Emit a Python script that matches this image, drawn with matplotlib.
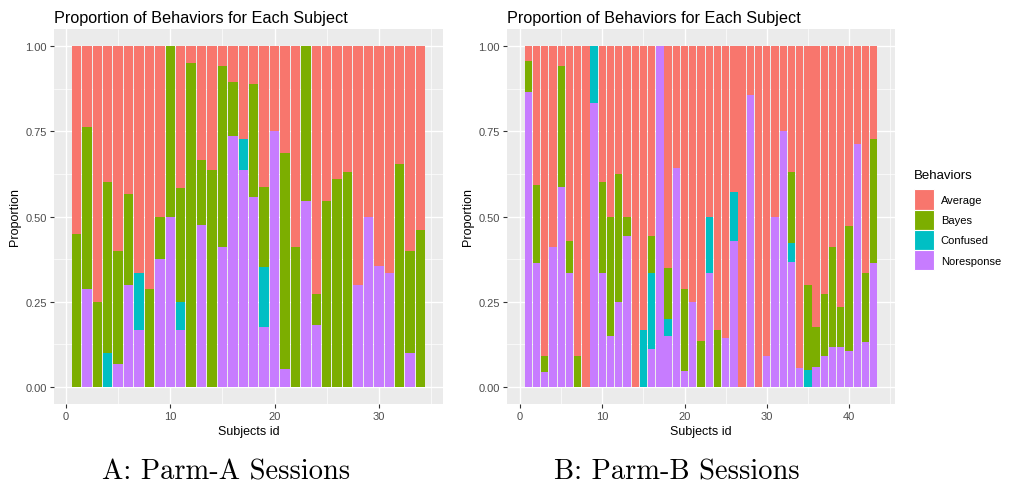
import matplotlib
matplotlib.use("Agg")
import matplotlib.pyplot as plt
from matplotlib.patches import Patch
from matplotlib.ticker import MultipleLocator
import numpy as np

plt.rcParams["font.family"] = ["Liberation Sans", "DejaVu Sans"]

BEHAVIORS = ["Average", "Bayes", "Confused", "Noresponse"]
COLORS = {"Average": "#F8766D", "Bayes": "#7CAE00", "Confused": "#00BFC4", "Noresponse": "#C77CFF"}

# Parm-A sessions (34 subjects)
a_noresponse = [0, 0.286, 0, 0, 0.067, 0.3, 0.167, 0, 0.375, 0.5, 0.167, 0, 0.476, 0, 0.412, 0.737, 0.636,
                0.556, 0.176, 0.75, 0.053, 0, 0.545, 0.182, 0, 0, 0, 0.3, 0.5, 0.355, 0.333, 0, 0.1, 0]
a_confused = [0, 0, 0, 0.1, 0, 0, 0.167, 0, 0, 0, 0.083, 0, 0, 0, 0, 0, 0.091,
              0, 0.176, 0, 0, 0, 0, 0, 0, 0, 0, 0, 0, 0, 0, 0, 0, 0]
a_bayes = [0.45, 0.476, 0.25, 0.5, 0.333, 0.267, 0, 0.286, 0.125, 0.5, 0.333, 0.95, 0.19, 0.636, 0.529, 0.158, 0,
           0.333, 0.235, 0, 0.632, 0.412, 0.455, 0.091, 0.545, 0.611, 0.632, 0, 0, 0, 0, 0.655, 0.3, 0.46]
a_average = [0.55, 0.238, 0.75, 0.4, 0.6, 0.433, 0.667, 0.714, 0.5, 0, 0.417, 0.05, 0.333, 0.364, 0.059, 0.105, 0.273,
             0.111, 0.412, 0.25, 0.316, 0.588, 0, 0.727, 0.455, 0.389, 0.368, 0.7, 0.5, 0.645, 0.667, 0.345, 0.6, 0.54]

# Parm-B sessions (43 subjects)
b_noresponse = [0.864, 0.364, 0.045, 0.412, 0.588, 0.333, 0, 0, 0.833, 0.333, 0.15, 0.25, 0.444, 0, 0, 0.111,
                1, 0.15, 0.643, 0.048, 0.25, 0, 0.333, 0, 0.143, 0.429, 0, 0.857, 0, 0.091, 0.5, 0.75,
                0.368, 0.056, 0, 0.059, 0.091, 0.118, 0.118, 0.105, 0.714, 0.133, 0.364]
b_confused = [0, 0, 0, 0, 0, 0, 0, 0, 0.167, 0, 0, 0, 0, 0, 0.167, 0.222,
              0, 0.05, 0, 0, 0, 0, 0.167, 0, 0, 0.143, 0, 0, 0, 0, 0, 0,
              0.053, 0, 0.05, 0, 0, 0, 0, 0, 0, 0, 0]
b_bayes = [0.091, 0.227, 0.045, 0, 0.353, 0.095, 0.091, 0, 0, 0.267, 0.35, 0.375, 0.056, 0, 0, 0.111,
           0, 0.15, 0, 0.238, 0, 0.136, 0, 0.167, 0, 0, 0, 0, 0, 0, 0, 0,
           0.211, 0, 0.25, 0.118, 0.182, 0.294, 0.118, 0.368, 0, 0.2, 0.364]
b_average = [0.045, 0.409, 0.909, 0.588, 0.059, 0.571, 0.909, 1, 0, 0.4, 0.5, 0.375, 0.5, 1, 0.833, 0.556,
             0, 0.65, 0.357, 0.714, 0.75, 0.864, 0.5, 0.833, 0.857, 0.429, 1, 0.143, 1, 0.909, 0.5, 0.25,
             0.368, 0.944, 0.7, 0.824, 0.727, 0.588, 0.765, 0.526, 0.286, 0.667, 0.273]

W, H = 1013, 489


def px_axes(fig, x0, y0, x1, y1):
    return fig.add_axes([x0 / W, 1 - y1 / H, (x1 - x0) / W, (y1 - y0) / H])


def draw_panel(ax, noresponse, confused, bayes, average, xmax_ticks):
    n = len(average)
    ids = np.arange(1, n + 1)
    # stacking order bottom -> top as in ggplot
    stack = [("Noresponse", noresponse), ("Confused", confused), ("Bayes", bayes), ("Average", average)]
    bottom = np.zeros(n)
    for name, vals in stack:
        vals = np.asarray(vals, dtype=float)
        ax.bar(ids, vals, width=0.9, bottom=bottom, color=COLORS[name], linewidth=0, zorder=3)
        bottom += vals
    ax.set_facecolor("#EBEBEB")
    pad = 0.05 * (n - 0.1)
    ax.set_xlim(0.55 - pad, n + 0.45 + pad)
    ax.set_ylim(-0.05, 1.05)
    ax.xaxis.set_minor_locator(MultipleLocator(5))
    ax.yaxis.set_minor_locator(MultipleLocator(0.125))
    ax.set_yticks([0, 0.25, 0.5, 0.75, 1.0])
    ax.set_yticklabels(["0.00", "0.25", "0.50", "0.75", "1.00"])
    ax.set_xticks(list(range(0, xmax_ticks + 1, 10)))
    ax.grid(which="major", color="white", linewidth=1.0, zorder=1)
    ax.grid(which="minor", color="white", linewidth=0.5, zorder=1)
    ax.set_axisbelow(True)
    for s in ax.spines.values():
        s.set_visible(False)
    ax.tick_params(which="major", length=3, width=0.8, color="#333333", labelcolor="#4D4D4D", labelsize=8, pad=2)
    ax.tick_params(which="minor", length=0)
    ax.set_xlabel("Subjects id", fontsize=9, color="black", labelpad=3)
    ax.set_ylabel("Proportion", fontsize=9, color="black", labelpad=3)
    ax.set_title("Proportion of Behaviors for Each Subject", fontsize=11.7, loc="left", pad=5)


fig = plt.figure(figsize=(W / 100, H / 100), dpi=100)

ax_a = px_axes(fig, 54, 30, 443, 405)
draw_panel(ax_a, a_noresponse, a_confused, a_bayes, a_average, 30)

ax_b = px_axes(fig, 507, 30, 895, 405)
draw_panel(ax_b, b_noresponse, b_confused, b_bayes, b_average, 40)

handles = [Patch(facecolor=COLORS[b], edgecolor="white", linewidth=0.8, label=b) for b in BEHAVIORS]
leg = fig.legend(handles=handles, title="Behaviors", loc="upper left", bbox_to_anchor=(914 / W, 1 - 170 / H),
                 frameon=False, fontsize=8, title_fontsize=9.5, handlelength=1.8, handleheight=2.43,
                 labelspacing=0.0, handletextpad=0.6, borderaxespad=0, borderpad=0)
leg._legend_box.align = "left"
leg._legend_box.sep = 6

fig.text(226 / W, 1 - 472 / H, "A: Parm-A Sessions", family="cmr10", fontsize=20.5, ha="center", va="center")
fig.text(677 / W, 1 - 472 / H, "B: Parm-B Sessions", family="cmr10", fontsize=20.5, ha="center", va="center")

fig.savefig("out.png", dpi=100)
